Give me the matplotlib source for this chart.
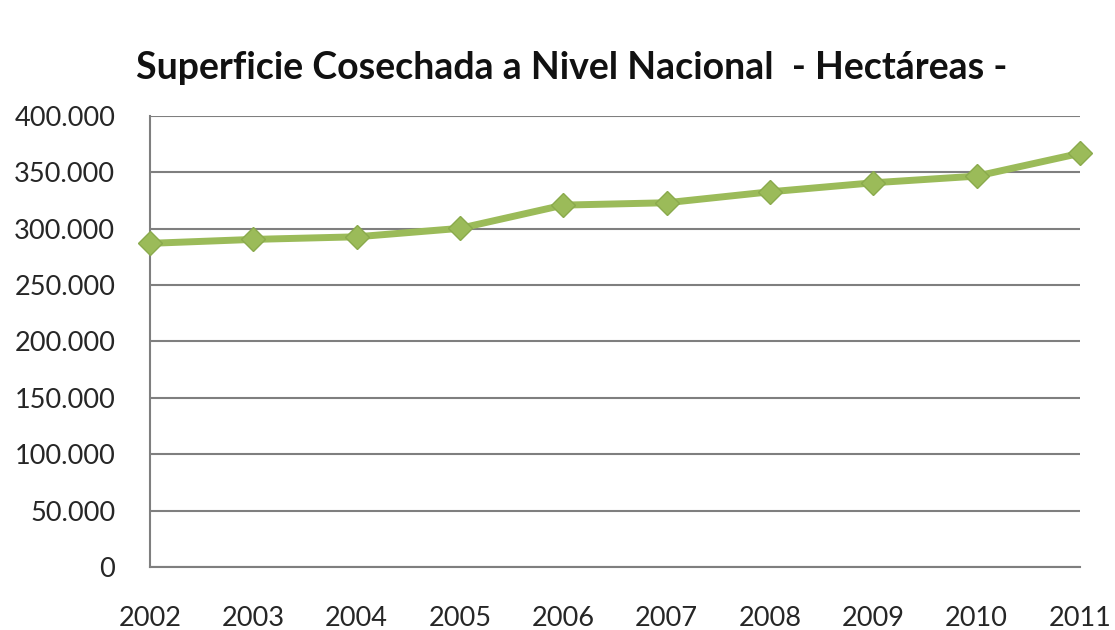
import matplotlib.pyplot as plt
from matplotlib.ticker import FuncFormatter

# datos
years = [2002, 2003, 2004, 2005, 2006, 2007, 2008, 2009, 2010, 2011]
hectareas = [287000, 290500, 292800, 300300, 320900, 323000, 332700, 340700, 346600, 366800]
yticks = [0, 50000, 100000, 150000, 200000, 250000, 300000, 350000, 400000]

plt.rcParams['font.family'] = ['Lato', 'DejaVu Sans']

fig = plt.figure(figsize=(11.15, 6.3), dpi=100)
ax = fig.add_axes([0.1345, 0.1, 0.834, 0.716])

ax.plot(years, hectareas, color='#9BBB59', lw=5, marker='D', ms=12,
        mec='#8AAA4C', mfc='#9BBB59', zorder=3, clip_on=False)

ax.set_xlim(2002, 2011)
ax.set_ylim(0, 400000)
ax.set_yticks(yticks)
ax.set_xticks(years)
ax.yaxis.set_major_formatter(FuncFormatter(lambda v, p: f'{int(v):,}'.replace(',', '.')))
ax.grid(axis='y', color='#7f7f7f', lw=1.5)
ax.set_axisbelow(True)
for s in ['top', 'right']:
    ax.spines[s].set_visible(False)
ax.spines['left'].set_color('#7f7f7f')
ax.spines['left'].set_linewidth(1.5)
ax.spines['bottom'].set_color('#7f7f7f')
ax.spines['bottom'].set_linewidth(1.5)
ax.tick_params(axis='y', length=0, pad=25, labelsize=19.5, labelcolor='#262626')
ax.tick_params(axis='x', length=0, pad=28, labelsize=19.5, labelcolor='#262626')

fig.text(0.513, 0.892, 'Superficie Cosechada a Nivel Nacional  - Hectáreas -',
         ha='center', va='center', fontsize=27, fontweight='bold', color='#111111')

fig.savefig('out.png', dpi=100)
